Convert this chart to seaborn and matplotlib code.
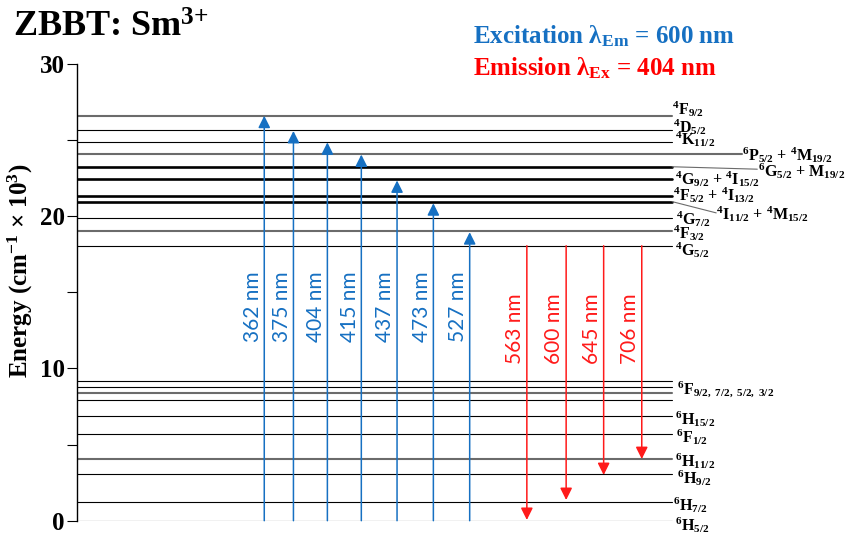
import matplotlib
matplotlib.use("Agg")
import matplotlib.pyplot as plt
import numpy as np
import pandas as pd
import seaborn as sns
from matplotlib.ticker import MultipleLocator

# Energy levels (cm-1 x 10^3)
level_energy = [0.0, 1.25, 3.05, 4.03, 5.70, 6.88, 7.94, 8.38, 8.77, 9.20,
                18.06, 19.03, 19.86, 20.96, 21.35, 22.43, 23.25, 24.07, 24.86, 25.67, 26.60]
level_kind = ["thin", "thin", "thin", "gray", "thin", "thin", "thin", "gray", "thin", "thin",
              "thin", "gray", "thin", "thick", "thick", "thick", "thick", "gray", "thin", "thin", "gray"]

# term labels and where they sit
term_labels = [
    r"$^{6}$H$_{5/2}$", r"$^{6}$H$_{7/2}$", r"$^{6}$H$_{9/2}$", r"$^{6}$H$_{11/2}$",
    r"$^{6}$F$_{1/2}$", r"$^{6}$H$_{15/2}$", r"$^{6}$F$_{9/2,\ 7/2,\ 5/2,\ 3/2}$",
    r"$^{4}$G$_{5/2}$", r"$^{4}$F$_{3/2}$", r"$^{4}$G$_{7/2}$",
    r"$^{4}$I$_{11/2}$ + $^{4}$M$_{15/2}$", r"$^{4}$F$_{5/2}$ + $^{4}$I$_{13/2}$",
    r"$^{4}$G$_{9/2}$ + $^{4}$I$_{15/2}$", r"$^{6}$G$_{5/2}$ + M$_{19/2}$",
    r"$^{6}$P$_{5/2}$ + $^{4}$M$_{19/2}$", r"$^{4}$K$_{11/2}$", r"$^{4}$D$_{5/2}$",
    r"$^{4}$F$_{9/2}$",
]
term_y = [-0.32, 1.03, 2.80, 3.89, 5.47, 6.69, 8.59, 17.78, 18.90, 19.82,
          20.15, 21.40, 22.41, 22.97, 24.03, 25.07, 25.86, 27.05]
term_x = [100.5, 100.2, 100.8, 100.5, 100.7, 100.5, 100.8, 100.5, 100.2, 100.6,
          107.4, 100.2, 100.5, 114.5, 111.7, 100.5, 100.2, 100.0]

# excitation (blue, up) and emission (red, down) transitions
exc_nm = [362, 375, 404, 415, 437, 473, 527]
exc_top = [26.60, 25.60, 24.85, 24.05, 22.35, 20.85, 18.95]
emi_nm = [563, 600, 645, 706]
emi_start = 18.06
emi_end = [0.05, 1.36, 3.00, 4.05]

exc_x = [31.5, 36.4, 42.1, 47.8, 53.8, 59.9, 66.0]
emi_x = [75.6, 82.2, 88.5, 94.9]

BLUE = "#1670c2"
RED = "#ff1a1a"

sns.set_theme(style="ticks")
plt.rcParams["font.family"] = ["Liberation Serif", "DejaVu Serif"]
plt.rcParams["font.weight"] = "bold"
plt.rcParams["text.color"] = "black"
plt.rcParams["ytick.color"] = "black"
plt.rcParams["ytick.labelcolor"] = "black"
plt.rcParams["mathtext.fontset"] = "custom"
plt.rcParams["mathtext.rm"] = "Liberation Serif:bold"
plt.rcParams["mathtext.it"] = "Liberation Serif:bold:italic"
plt.rcParams["mathtext.bf"] = "Liberation Serif:bold"
plt.rcParams["mathtext.default"] = "rm"

fig = plt.figure(figsize=(8.46, 5.38), dpi=100)
ax = fig.add_axes([76.7 / 846, (538 - 520.7) / 538, 1 - 76.7 / 846, (520.7 - 64) / 538])

line_end = [100.0] * len(level_energy)
line_end[level_energy.index(24.07)] = 111.7
rows = []
for i, (e, k, xe) in enumerate(zip(level_energy, level_kind, line_end)):
    rows.append({"level": i, "x": 0.0, "E": e, "kind": k})
    rows.append({"level": i, "x": xe, "E": e, "kind": k})
df = pd.DataFrame(rows)

kind_style = {"thin": ("black", 0.8), "thick": ("black", 1.9), "gray": ("#6b6b6b", 1.5)}
for kind, (c, lw) in kind_style.items():
    sns.lineplot(data=df[df["kind"] == kind], x="x", y="E", units="level",
                 estimator=None, sort=False, color=c, lw=lw, ax=ax, legend=False)

# leader lines to the offset labels
ax.plot([100.0, 114.3], [23.25, 23.09], color="#6b6b6b", lw=0.8)
ax.plot([100.0, 107.4], [20.96, 20.22], color="#6b6b6b", lw=0.8)

for txt, x, y in zip(term_labels, term_x, term_y):
    ax.text(x, y, txt, fontsize=11.5, ha="left", va="center", clip_on=False)

head = "-|>,head_length=0.6,head_width=0.3"
for x, top, nm in zip(exc_x, exc_top, exc_nm):
    ax.annotate("", xy=(x, top), xytext=(x, 0),
                arrowprops=dict(arrowstyle=head, color=BLUE, lw=1.1, shrinkA=0, shrinkB=0))
    ax.annotate(f"{nm} nm", xy=(x, 14.04), xytext=(-1.2, 0), textcoords="offset points",
                rotation=90, ha="right", va="center", color=BLUE,
                family="Lato", weight="normal", fontsize=15)

for x, end, nm in zip(emi_x, emi_end, emi_nm):
    ax.annotate("", xy=(x, end), xytext=(x, emi_start),
                arrowprops=dict(arrowstyle=head, color=RED, lw=1.1, shrinkA=0, shrinkB=0))
    ax.annotate(f"{nm} nm", xy=(x, 12.64), xytext=(-1.2, 0), textcoords="offset points",
                rotation=90, ha="right", va="center", color=RED,
                family="Lato", weight="normal", fontsize=15)

ax.set_xlim(0, 129.2)
ax.set_ylim(0, 30)
ax.yaxis.set_major_locator(MultipleLocator(10))
ax.yaxis.set_minor_locator(MultipleLocator(5))
ax.tick_params(axis="y", which="both", direction="out", length=7.5, width=0.8,
               color="black", left=True)
ax.tick_params(axis="y", which="major", labelsize=18, pad=1, labelcolor="black")
ax.xaxis.set_visible(False)
for s in ["top", "right", "bottom"]:
    ax.spines[s].set_visible(False)
ax.spines["left"].set_linewidth(1.0)
ax.spines["left"].set_color("black")
ax.set_xlabel("")
ax.set_ylabel("")
ax.patch.set_alpha(0)

fig.text(20 / 846, 1 - 271 / 538, r"Energy (cm$^{-1}$ × 10$^{3}$)", rotation=90,
         ha="center", va="center", fontsize=18)
fig.text(13 / 846, 1 - 37 / 538, r"ZBBT: Sm$^{3{+}}$", ha="left", va="baseline", fontsize=26)
fig.text(473 / 846, 1 - 43.3 / 538, r"Excitation λ$_{\rm Em}$ = 600 nm", ha="left",
         va="baseline", fontsize=18, color=BLUE)
fig.text(473 / 846, 1 - 75 / 538, r"Emission λ$_{\rm Ex}$ = 404 nm", ha="left",
         va="baseline", fontsize=18, color="#ff0000")

fig.savefig("out.png", dpi=100)
